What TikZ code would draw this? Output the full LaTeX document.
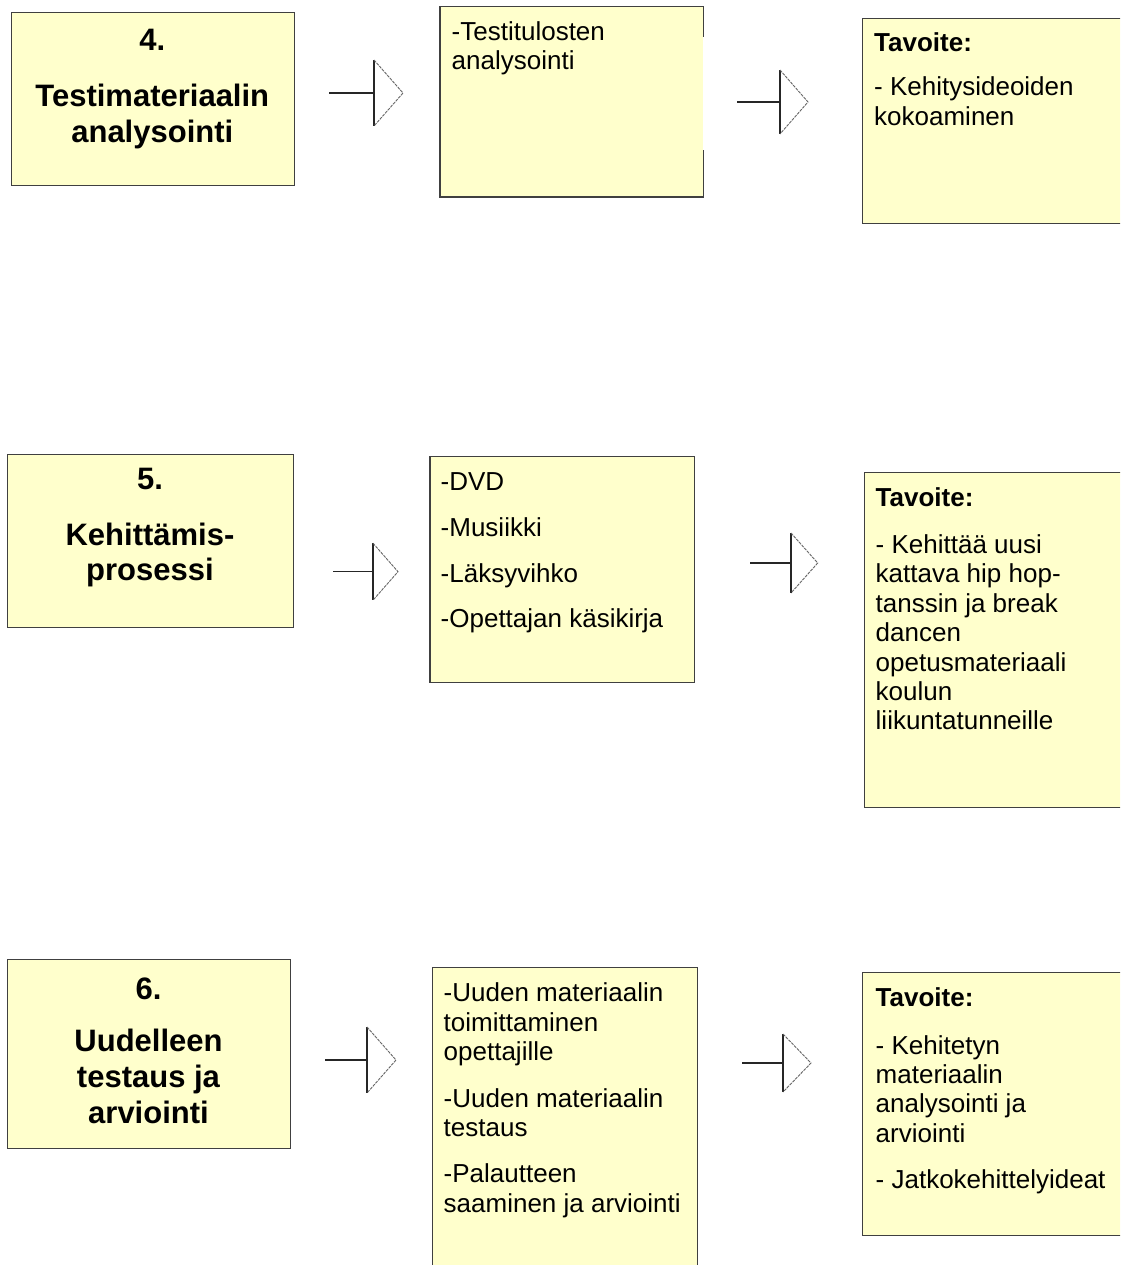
\documentclass[tikz,border=0pt]{standalone}
\usepackage{fontspec}
\setmainfont{Liberation Sans}
\usetikzlibrary{calc}
\definecolor{boxfill}{HTML}{FFFFCC}
\definecolor{boxline}{HTML}{404040}
\tikzset{
  box/.style={draw=boxline, line width=1.2pt, fill=boxfill, rectangle, anchor=north west, inner sep=0pt},
  boxnoline/.style={fill=boxfill, rectangle, anchor=north west, inner sep=0pt},
  border/.style={draw=boxline, line width=1.2pt},
  titletxt/.style={font=\bfseries\fontsize{31}{35.7}\selectfont, align=center, anchor=north, inner sep=0pt},
  bodytxt/.style={font=\fontsize{26}{29.4}\selectfont, align=left, anchor=north west, inner sep=0pt},
  stem/.style={draw=black!85, line width=1.5pt},
  barline/.style={draw=black!85, line width=1.5pt},
  tri/.style={draw=black!60, line width=0.9pt, dash pattern=on 3pt off 1pt},
}
\newcommand\openarr[6]{%
  % #1 name, #2 start x, #3 bar x, #4 y, #5 half bar height, #6 tip x
  \coordinate (#1s) at (#2,#4);
  \coordinate (#1b) at (#3,#4);
  \coordinate (#1t) at (#3,#4-#5);
  \coordinate (#1u) at (#3,#4+#5);
  \coordinate (#1p) at (#6,#4);
  \draw[stem] (#1s) -- (#1b);
  \draw[barline] (#1t) -- (#1u);
  \draw[tri] (#1t) -- (#1p) -- (#1u);
}
\begin{document}
\begin{tikzpicture}[x=1pt,y=-1pt]
\useasboundingbox (0,0) rectangle (1120,1265);
\fill[white] (0,0) rectangle (1120,1265);
\clip (0,0) rectangle (1120,1265);

% ---- Row 1 ----
\node[box, minimum width=283.3pt, minimum height=173pt] (a1) at (10.7,12) {};
\node[titletxt] (t1) at (152.3,25.7) {4.\strut\\[20.3pt]Testimateriaalin\\analysointi};

\node[boxnoline, minimum width=263pt, minimum height=190pt] (b1) at (440,6.7) {};
\draw[border] ($(b1.north east)+(0,30)$) -- (b1.north east) -- (b1.north west)
  -- (b1.south west) -- (b1.south east) -- ($(b1.south east)+(0,-47)$);
\node[bodytxt] (m1) at (451.5,19.4) {-Testitulosten\strut\\analysointi};

\node[box, minimum width=270pt, minimum height=204.7pt] (c1) at (862,18) {};
\node[bodytxt] (g1) at (874,31.1) {\textbf{Tavoite:}\strut\\[14.6pt]- Kehitysideoiden\\kokoaminen};

\openarr{ra}{329}{374}{93}{33}{403}
\openarr{rb}{737}{780}{102}{32}{808}

% ---- Row 2 ----
\node[box, minimum width=286pt, minimum height=173pt] (a2) at (7,454) {};
\node[titletxt] (t2) at (150,464) {5.\strut\\[20.3pt]Kehittämis-\\prosessi};

\node[box, minimum width=264.7pt, minimum height=226pt] (b2) at (429.3,455.7) {};
\node[bodytxt] (m2) at (440.5,470.1) {-DVD\strut\\[16.3pt]-Musiikki\\[16.3pt]-Läksyvihko\\[16.3pt]-Opettajan käsikirja};

\node[box, minimum width=270pt, minimum height=335pt] (c2) at (864,471.7) {};
\node[bodytxt] (g2) at (875.5,486.1) {\textbf{Tavoite:}\strut\\[17.2pt]- Kehittää uusi\\kattava hip hop-\\tanssin ja break\\dancen\\opetusmateriaali\\koulun\\liikuntatunneille};

\openarr{rc}{333}{373}{571.7}{28.5}{398}
\openarr{rd}{750}{791}{563}{30}{817.7}

% ---- Row 3 ----
\node[box, minimum width=283pt, minimum height=189pt] (a3) at (7,959) {};
\node[titletxt] (t3) at (148.5,974) {6.\strut\\[17pt]Uudelleen\\testaus ja\\arviointi};

\node[box, minimum width=265pt, minimum height=310pt] (b3) at (432,967) {};
\node[bodytxt] (m3) at (443.5,981.1) {-Uuden materiaalin\strut\\toimittaminen\\opettajille\\[17pt]-Uuden materiaalin\\testaus\\[17pt]-Palautteen\\saaminen ja arviointi};

\node[box, minimum width=270pt, minimum height=263pt] (c3) at (862,972) {};
\node[bodytxt] (g3) at (875.5,986.1) {\textbf{Tavoite:}\strut\\[17.9pt]- Kehitetyn\\materiaalin\\analysointi ja\\arviointi\\[17.2pt]- Jatkokehittelyideat};

\openarr{re}{325}{367}{1060}{33}{396}
\openarr{rf}{742}{783}{1063}{29}{811}
\end{tikzpicture}
\end{document}
